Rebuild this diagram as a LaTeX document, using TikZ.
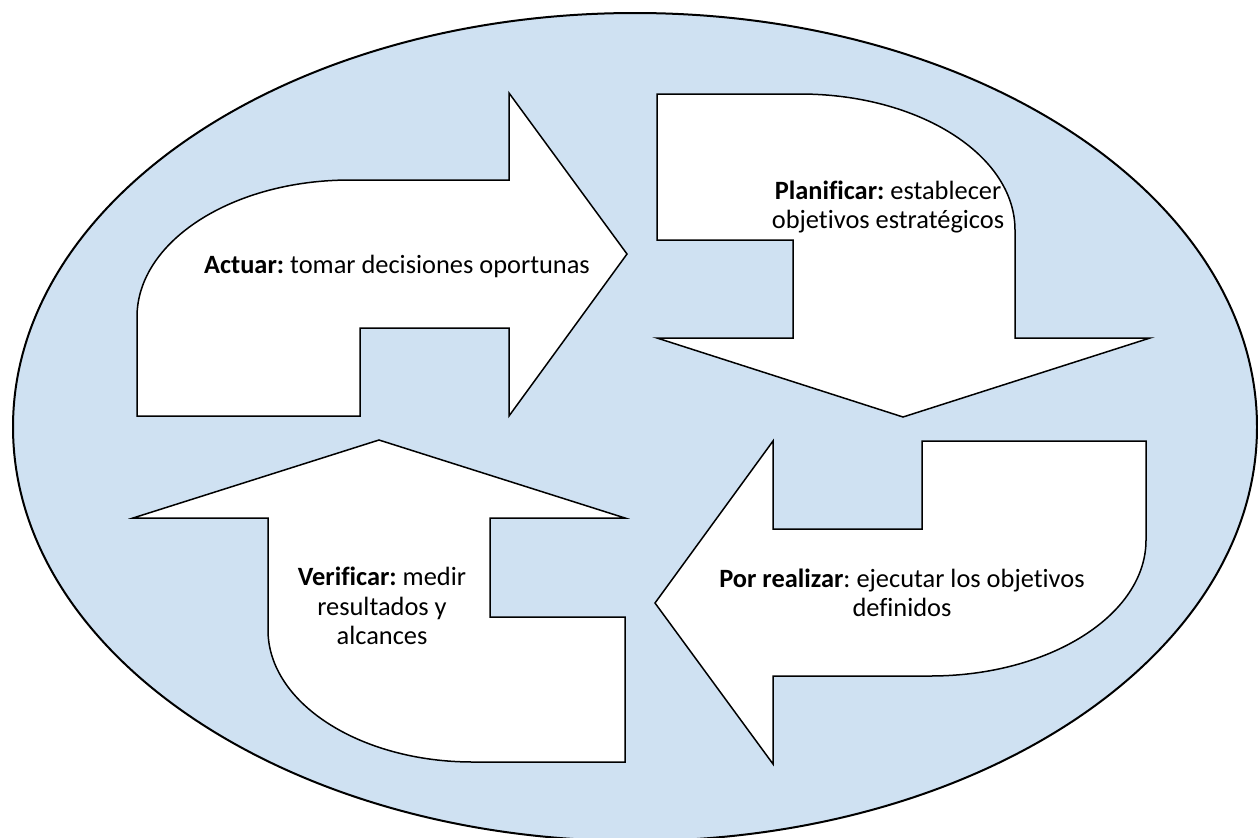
\documentclass[tikz,border=0pt]{standalone}
\usepackage{fontspec}
\setmainfont{Carlito}[Ligatures={NoCommon}]
\frenchspacing
\definecolor{bgblue}{RGB}{207,225,242}
\begin{document}
\begin{tikzpicture}[x=0.5pt,y=-0.5pt,
  bigarrow/.style={draw=black,fill=white,line width=0.75pt,line join=miter},
  lbl/.style={align=center,inner sep=0pt,font=\fontsize{13.2}{14.6}\selectfont\frenchspacing}]
\useasboundingbox (0,0) rectangle (1258,837);
\begin{scope}
\clip (0,0) rectangle (1258,837);
\draw[fill=bgblue,draw=black,line width=1pt] (635,427) ellipse [x radius=311pt,y radius=207pt];
\end{scope}
% Actuar (right arrow)
\draw[bigarrow] (137,416) -- (137,317)
  .. controls (137,241.3) and (232.4,180) .. (350,180)
  -- (509,180) -- (509,93) -- (627,254) -- (509,416) -- (509,328)
  -- (360,328) -- (360,416) -- cycle;
% Planificar (down arrow)
\draw[bigarrow] (657,94) -- (800,94)
  .. controls (918.7,94) and (1015,154.9) .. (1015,230)
  -- (1015,338) -- (1150,338) -- (903,417) -- (657,338) -- (793,338)
  -- (793,240) -- (657,240) -- cycle;
% Por realizar (left arrow)
\draw[bigarrow] (655,603) -- (773,441) -- (773,529) -- (922,529) -- (922,441)
  -- (1146,441) -- (1146,540)
  .. controls (1146,615.1) and (1049.3,676) .. (930,676)
  -- (773,676) -- (773,764) -- cycle;
% Verificar (up arrow)
\draw[bigarrow] (379,440) -- (625,518) -- (490,518) -- (490,617) -- (625,617)
  -- (625,762) -- (473,762)
  .. controls (359.8,762) and (268,702.9) .. (268,630)
  -- (268,518) -- (133,518) -- cycle;
\node[lbl] (actuar) at (397,266) {\textbf{Actuar:} tomar decisiones oportunas};
\node[lbl] (planificar) at (888,207) {\textbf{Planificar:} establecer\\objetivos estratégicos};
\node[lbl] (realizar) at (902,593) {\textbf{Por realizar}: ejecutar los objetivos\\definidos};
\node[lbl] (verificar) at (382,606) {\textbf{Verificar:} medir\\resultados y\\alcances};
\end{tikzpicture}
\end{document}
